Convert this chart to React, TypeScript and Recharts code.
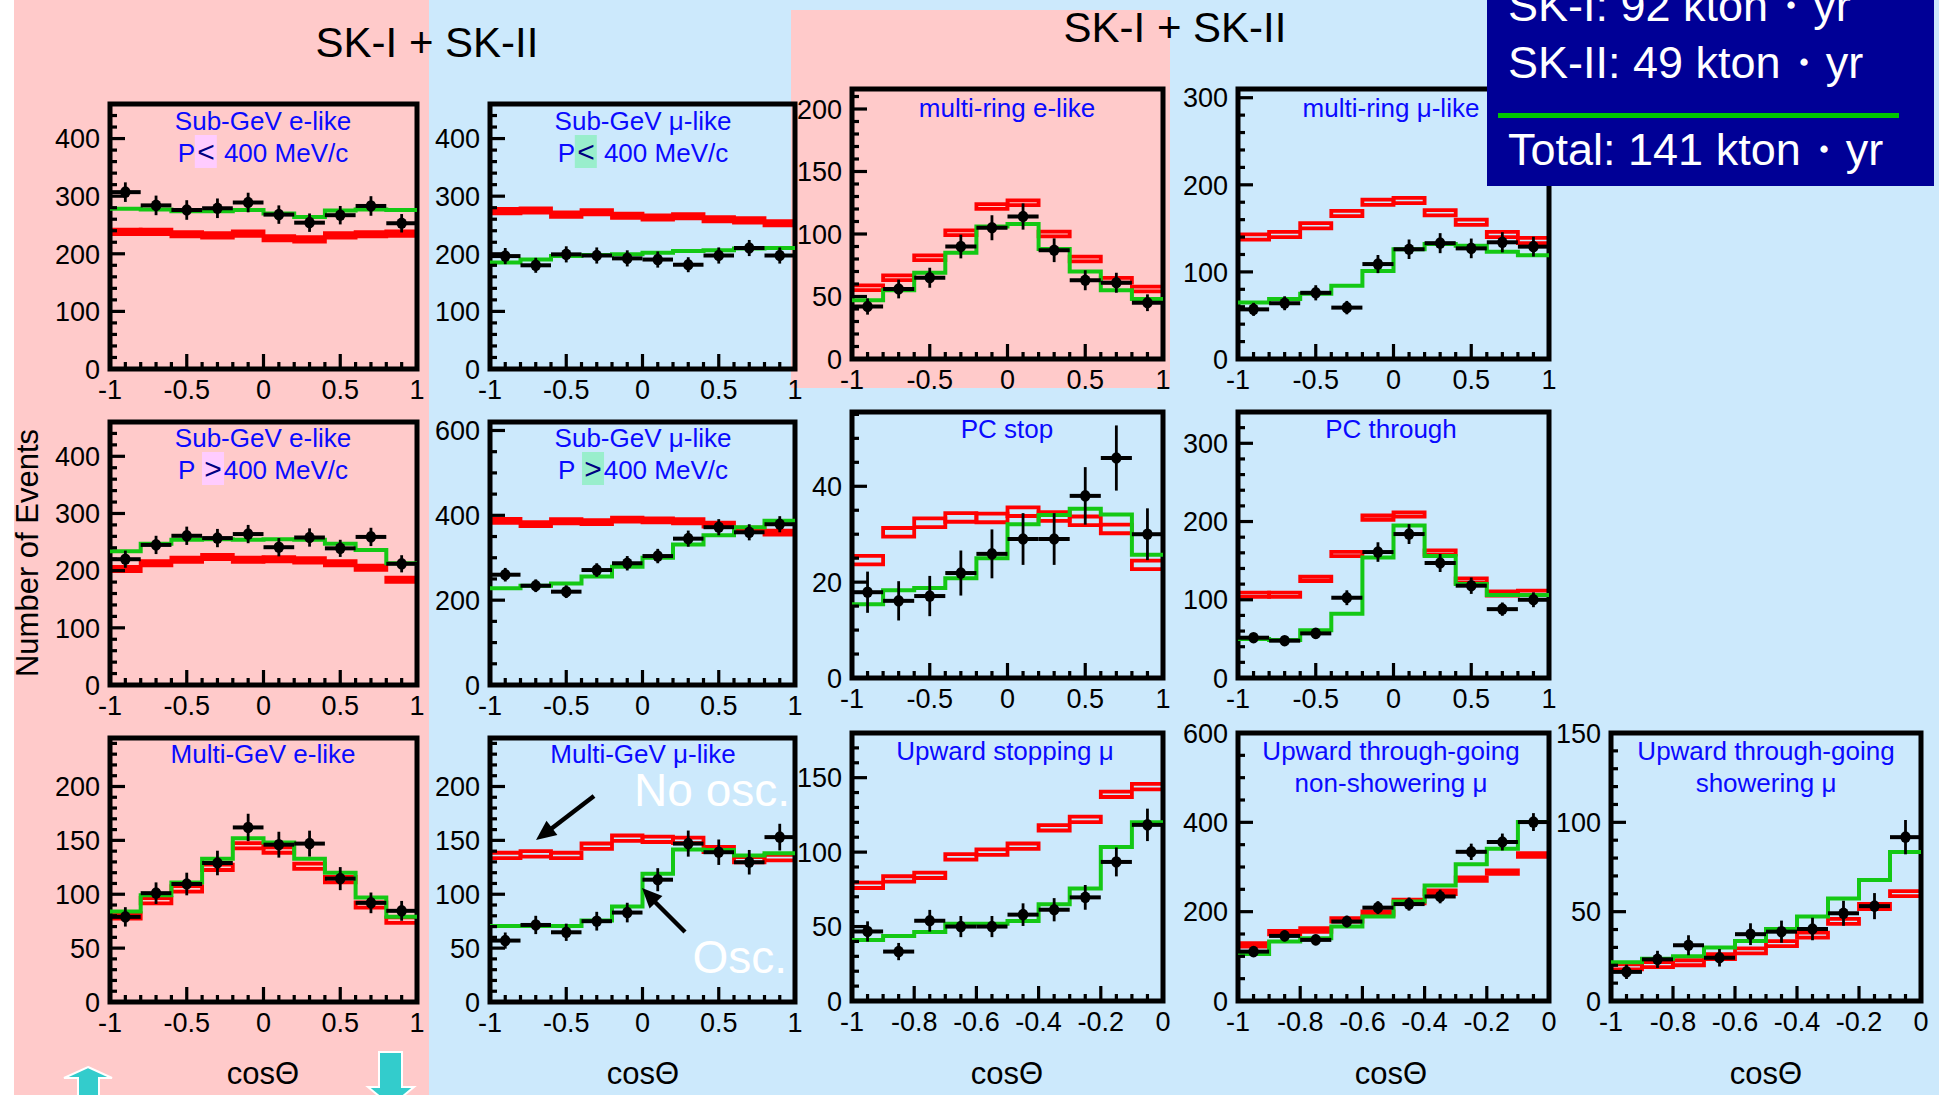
import React from "react";
import {
  ComposedChart,
  XAxis,
  YAxis,
  Line,
  Scatter,
  ErrorBar,
  ReferenceArea,
} from "recharts";

const PINK = "#ffcaca";
const BLUE = "#cce9fc";
const NAVY = "#000096";
const GREEN = "#14c814";
const RED = "#ff0000";
const TITLE_BLUE = "#0a0aff";
const FONT = '"Liberation Sans", Arial, Helvetica, sans-serif';

// bin centres in cosΘ
const cosFull = [-0.9, -0.7, -0.5, -0.3, -0.1, 0.1, 0.3, 0.5, 0.7, 0.9];
const cosUp = [-0.95, -0.85, -0.75, -0.65, -0.55, -0.45, -0.35, -0.25, -0.15, -0.05];

// Sub-GeV e-like P<400
const subELowData = [307, 284, 276, 279, 289, 268, 254, 267, 283, 253];
const subELowErr = [17, 17, 17, 17, 17, 16, 16, 16, 17, 16];
const subELowOsc = [278, 277, 274, 274, 276, 270, 264, 275, 277, 276];
const subELowNoOsc = [238, 238, 234, 232, 235, 227, 225, 232, 234, 235];

// Sub-GeV mu-like P<400
const subMuLowData = [196, 180, 199, 197, 192, 190, 181, 197, 210, 197];
const subMuLowErr = [14, 13, 14, 14, 14, 14, 13, 14, 14, 14];
const subMuLowOsc = [185, 190, 196, 198, 199, 202, 205, 206, 209, 210];
const subMuLowNoOsc = [274, 275, 268, 272, 266, 263, 265, 260, 258, 253];

// multi-ring e-like
const mrEData = [42, 56, 65, 90, 105, 114, 87, 63, 61, 45];
const mrEErr = [6.5, 7.5, 8, 9.5, 10, 10.5, 9.5, 8, 8, 6.7];
const mrEOsc = [47, 55, 69, 85, 106, 108, 88, 70, 55, 48];
const mrENoOsc = [57, 65, 81, 101, 122, 125, 100, 80, 63, 56];

// multi-ring mu-like
const mrMuData = [57, 64, 76, 59, 109, 126, 133, 127, 134, 129];
const mrMuErr = [7.5, 8, 8.7, 7.7, 10.4, 11.2, 11.5, 11.3, 11.6, 11.4];
const mrMuOsc = [65, 69, 75, 84, 101, 126, 132, 130, 123, 119];
const mrMuNoOsc = [140, 143, 153, 167, 180, 182, 168, 157, 143, 136];

// Sub-GeV e-like P>400
const subEHighData = [220, 245, 261, 257, 264, 241, 258, 239, 259, 212];
const subEHighErr = [15, 16, 16, 16, 16, 16, 16, 15, 16, 15];
const subEHighOsc = [234, 247, 254, 255, 254, 255, 254, 247, 236, 213];
const subEHighNoOsc = [203, 213, 219, 224, 219, 220, 218, 213, 205, 184];

// Sub-GeV mu-like P>400
const subMuHighData = [260, 234, 220, 271, 287, 304, 345, 372, 360, 379];
const subMuHighErr = [16, 15, 15, 16, 17, 17, 19, 19, 19, 19];
const subMuHighOsc = [228, 234, 239, 256, 279, 300, 331, 353, 372, 387];
const subMuHighNoOsc = [387, 379, 386, 384, 390, 388, 386, 378, 366, 359];

// PC stop
const pcStopData = [17.9, 16.1, 17.1, 21.9, 25.9, 29, 29, 38, 45.9, 30];
const pcStopErr = [4.3, 4.1, 4.2, 4.7, 5.1, 5.4, 5.4, 6, 6.8, 5.4];
const pcStopOsc = [15.4, 18.3, 18.8, 20.8, 25, 32.1, 34, 35.3, 34.1, 25.7];
const pcStopNoOsc = [24.6, 30.4, 32.4, 33.5, 33.4, 34.7, 33.7, 32.8, 31.1, 23.6];

// PC through
const pcThruData = [51.5, 47.7, 57, 102.6, 161, 184, 147, 118, 88, 100];
const pcThruErr = [6, 6, 6.5, 9.5, 12.5, 12.7, 11.5, 10.5, 8.5, 9.5];
const pcThruOsc = [50, 48.6, 61, 82, 154, 195, 156, 120, 106, 106];
const pcThruNoOsc = [106.5, 106.5, 126.7, 158.4, 205, 209, 160.5, 124.6, 108, 109];

// Multi-GeV e-like
const mgEData = [79, 101, 109.5, 129, 162, 146, 147, 114.5, 92, 84.6];
const mgEErr = [9, 10, 10.5, 11.4, 12.7, 12, 12, 10.7, 9.6, 9.2];
const mgEOsc = [84, 99, 111, 133, 152, 148, 133, 120, 97, 79];
const mgENoOsc = [80, 94, 105, 125, 145, 141, 126, 113.5, 90, 76];

// Multi-GeV mu-like
const mgMuData = [57, 71.5, 64.7, 75, 83, 113.5, 147, 139, 129.7, 153];
const mgMuErr = [7.5, 8.5, 8, 8.7, 9.1, 10.7, 12.1, 11.8, 11.4, 12.4];
const mgMuOsc = [70.6, 70.6, 70.6, 75.6, 88.6, 119, 141.5, 141, 136, 138];
const mgMuNoOsc = [136, 137.5, 136, 144.6, 152, 151, 150, 141.5, 132, 134];

// Upward stopping mu
const upStopData = [46.7, 33.2, 53.9, 50, 50, 58, 61.3, 69.6, 93.4, 118.3];
const upStopErr = [6.8, 5.8, 7.3, 7.1, 7.1, 7.6, 7.8, 8.3, 9.7, 10.9];
const upStopOsc = [41, 43.6, 46.3, 51.9, 51.9, 53.7, 64.9, 75.5, 103.5, 120];
const upStopNoOsc = [77.7, 82, 84.4, 96.8, 100, 104, 116.3, 122, 138.8, 144];

// Upward through-going non-showering mu
const upThruData = [110.6, 145.7, 136.8, 177.9, 209, 217, 234, 334, 356, 400.6];
const upThruErr = [10.5, 12, 11.7, 13.3, 14.5, 14.7, 15.3, 18.3, 18.9, 20];
const upThruOsc = [105, 133, 140.5, 166.7, 189, 222.7, 258.6, 306, 341, 400.6];
const upThruNoOsc = [125.6, 153, 159, 181.6, 196.6, 222.7, 243.6, 272.8, 288.5, 327];

// Upward through-going showering mu
const upShowData = [16.3, 23.3, 31.2, 24.2, 37.4, 38.8, 40.3, 49.1, 53.1, 91.7];
const upShowErr = [4, 4.8, 5.6, 4.9, 6.1, 6.2, 6.3, 7, 7.3, 9.6];
const upShowOsc = [21.7, 23.6, 25.1, 29.9, 33.6, 40.3, 47.3, 57.3, 67.7, 83.4];
const upShowNoOsc = [19.1, 20.4, 21.4, 24.8, 28, 32.1, 36.9, 44.6, 52.9, 60.1];

type Panel = {
  left: number;
  top: number;
  w: number;
  h: number;
  up?: boolean;
  yMax: number;
  yMajor: number;
  yMinor: number;
  data: number[];
  err: number[];
  osc: number[];
  noOsc: number[];
  band: number;
  solid?: boolean;
};

const panels: Panel[] = [
  { left: 110, top: 104, w: 307, h: 265, yMax: 460, yMajor: 100, yMinor: 20, data: subELowData, err: subELowErr, osc: subELowOsc, noOsc: subELowNoOsc, band: 3.7, solid: true },
  { left: 490, top: 104, w: 305, h: 265, yMax: 460, yMajor: 100, yMinor: 20, data: subMuLowData, err: subMuLowErr, osc: subMuLowOsc, noOsc: subMuLowNoOsc, band: 3.7, solid: true },
  { left: 852, top: 89, w: 311, h: 270, yMax: 216, yMajor: 50, yMinor: 10, data: mrEData, err: mrEErr, osc: mrEOsc, noOsc: mrENoOsc, band: 1.9 },
  { left: 1238, top: 89, w: 311, h: 270, yMax: 310, yMajor: 100, yMinor: 20, data: mrMuData, err: mrMuErr, osc: mrMuOsc, noOsc: mrMuNoOsc, band: 3 },
  { left: 110, top: 422, w: 307, h: 263, yMax: 460, yMajor: 100, yMinor: 20, data: subEHighData, err: subEHighErr, osc: subEHighOsc, noOsc: subEHighNoOsc, band: 3.7, solid: true },
  { left: 490, top: 422, w: 305, h: 263, yMax: 620, yMajor: 200, yMinor: 50, data: subMuHighData, err: subMuHighErr, osc: subMuHighOsc, noOsc: subMuHighNoOsc, band: 4.7, solid: true },
  { left: 852, top: 412, w: 311, h: 266, yMax: 55.5, yMajor: 20, yMinor: 5, data: pcStopData, err: pcStopErr, osc: pcStopOsc, noOsc: pcStopNoOsc, band: 0.9 },
  { left: 1238, top: 412, w: 311, h: 266, yMax: 340, yMajor: 100, yMinor: 20, data: pcThruData, err: pcThruErr, osc: pcThruOsc, noOsc: pcThruNoOsc, band: 2.7 },
  { left: 110, top: 738, w: 307, h: 264, yMax: 245, yMajor: 50, yMinor: 10, data: mgEData, err: mgEErr, osc: mgEOsc, noOsc: mgENoOsc, band: 2.5 },
  { left: 490, top: 738, w: 305, h: 264, yMax: 245, yMajor: 50, yMinor: 10, data: mgMuData, err: mgMuErr, osc: mgMuOsc, noOsc: mgMuNoOsc, band: 2.5 },
  { left: 852, top: 733, w: 311, h: 268, up: true, yMax: 180, yMajor: 50, yMinor: 10, data: upStopData, err: upStopErr, osc: upStopOsc, noOsc: upStopNoOsc, band: 1.8 },
  { left: 1238, top: 733, w: 311, h: 268, up: true, yMax: 600, yMajor: 200, yMinor: 50, data: upThruData, err: upThruErr, osc: upThruOsc, noOsc: upThruNoOsc, band: 4 },
  { left: 1611, top: 733, w: 310, h: 268, up: true, yMax: 150, yMajor: 50, yMinor: 10, data: upShowData, err: upShowErr, osc: upShowOsc, noOsc: upShowNoOsc, band: 1.4 },
];

const ML = 72; // room for y labels
const MT = 16;
const MR = 22;
const MB = 46;
const GAP_Y = 10;
const GAP_X = 11;

function tickList(min: number, max: number, step: number) {
  const out: number[] = [];
  for (let k = Math.ceil(min / step - 1e-9); k * step <= max + 1e-9; k++) {
    out.push(Math.round(k * step * 1000) / 1000);
  }
  return out;
}

const isMultiple = (v: number, step: number) =>
  Math.abs(v / step - Math.round(v / step)) < 1e-6;

function makeYTick(major: number) {
  return (props: any) => {
    const { x, y, payload } = props;
    const v = payload.value;
    const big = isMultiple(v, major);
    const ax = x + GAP_Y;
    return (
      <g>
        <line x1={ax} x2={ax + (big ? 15 : 7)} y1={y} y2={y} stroke="#000" strokeWidth={3.2} />
        {big && (
          <text x={x} y={y} dy="0.36em" textAnchor="end" fontSize={27} fontFamily={FONT} fill="#000">
            {String(v)}
          </text>
        )}
      </g>
    );
  };
}

function makeXTick(major: number) {
  return (props: any) => {
    const { x, y, payload } = props;
    const v = payload.value;
    const big = isMultiple(v, major);
    const ay = y - GAP_X;
    return (
      <g>
        <line x1={x} x2={x} y1={ay} y2={ay - (big ? 15 : 7)} stroke="#000" strokeWidth={3.2} />
        {big && (
          <text x={x} y={y} dy="0.72em" textAnchor="middle" fontSize={27} fontFamily={FONT} fill="#000">
            {String(v)}
          </text>
        )}
      </g>
    );
  };
}

const DataDot = (props: any) => (
  <ellipse cx={props.cx} cy={props.cy} rx={5.2} ry={5.8} fill="#000" />
);

function PanelChart({ p }: { p: Panel }) {
  const bins = p.up ? cosUp : cosFull;
  const half = p.up ? 0.05 : 0.1;
  const xMin = -1;
  const xMax = p.up ? 0 : 1;
  const xMajor = p.up ? 0.2 : 0.5;
  const xMinor = p.up ? 0.05 : 0.1;

  const step = bins.map((c, i) => ({ x: +(c - half).toFixed(3), y: p.osc[i] }));
  step.push({ x: xMax, y: p.osc[p.osc.length - 1] });
  const pts = bins.map((c, i) => ({ x: c, y: p.data[i], err: p.err[i], xerr: half }));

  const W = p.w + ML + MR;
  const H = p.h + MT + MB;

  return (
    <div style={{ position: "absolute", left: p.left - ML, top: p.top - MT }}>
      <ComposedChart width={W} height={H} margin={{ top: MT, right: MR, bottom: 0, left: 0 }}>
        <XAxis
          type="number"
          dataKey="x"
          domain={[xMin, xMax]}
          ticks={tickList(xMin, xMax, xMinor)}
          interval={0}
          allowDataOverflow
          axisLine={false}
          tickLine={false}
          tickSize={0}
          tickMargin={GAP_X}
          height={MB}
          tick={makeXTick(xMajor)}
        />
        <YAxis
          type="number"
          dataKey="y"
          domain={[0, p.yMax]}
          ticks={tickList(0, p.yMax, p.yMinor)}
          interval={0}
          allowDataOverflow
          axisLine={false}
          tickLine={false}
          tickSize={0}
          tickMargin={GAP_Y}
          width={ML}
          tick={makeYTick(p.yMajor)}
        />
        {p.noOsc.map((v, i) => (
          <ReferenceArea
            key={"n" + i}
            x1={bins[i] - half}
            x2={bins[i] + half}
            y1={v - p.band}
            y2={v + p.band}
            fill={p.solid ? RED : "none"}
            fillOpacity={1}
            stroke={RED}
            strokeWidth={3.8}
            ifOverflow="visible"
          />
        ))}
        <Line
          data={step}
          dataKey="y"
          type="stepAfter"
          stroke={GREEN}
          strokeWidth={4}
          dot={false}
          isAnimationActive={false}
        />
        <Scatter data={pts} dataKey="y" shape={DataDot} isAnimationActive={false}>
          <ErrorBar dataKey="xerr" direction="x" width={0} stroke="#000" strokeWidth={4} />
          <ErrorBar dataKey="err" direction="y" width={0} stroke="#000" strokeWidth={2.8} />
        </Scatter>
        <ReferenceArea
          x1={xMin}
          x2={xMax}
          y1={0}
          y2={p.yMax}
          fill="none"
          stroke="#000"
          strokeWidth={5}
          ifOverflow="visible"
        />
      </ComposedChart>
    </div>
  );
}

function Title({ x, y, children, size = 26 }: { x: number; y: number; children: React.ReactNode; size?: number }) {
  return (
    <div
      style={{
        position: "absolute",
        left: x,
        top: y,
        transform: "translate(-50%, -50%)",
        whiteSpace: "nowrap",
        color: TITLE_BLUE,
        fontSize: size,
        lineHeight: 1,
        fontFamily: FONT,
      }}
    >
      {children}
    </div>
  );
}

const Cmp = ({ sym, bg }: { sym: string; bg: string }) => (
  <span style={{ background: bg, color: "#000080", fontSize: 30, padding: "0 2px" }}>{sym}</span>
);

function arrowHead(x1: number, y1: number, x2: number, y2: number, len = 20, wid = 9) {
  const dx = x2 - x1;
  const dy = y2 - y1;
  const d = Math.hypot(dx, dy);
  const ux = dx / d;
  const uy = dy / d;
  const bx = x2 - ux * len;
  const by = y2 - uy * len;
  return `${x2},${y2} ${bx - uy * wid},${by + ux * wid} ${bx + uy * wid},${by - ux * wid}`;
}

const cosLabelX = [263, 643, 1007, 1391, 1766];

export default function App() {
  return (
    <div
      style={{
        position: "absolute",
        left: 0,
        top: 0,
        width: 1939,
        height: 1095,
        overflow: "hidden",
        background: BLUE,
        fontFamily: FONT,
      }}
    >
      <div style={{ position: "absolute", left: 0, top: 0, width: 14, height: 1095, background: "#fff" }} />
      <div style={{ position: "absolute", left: 14, top: 0, width: 415, height: 1095, background: PINK }} />
      <div style={{ position: "absolute", left: 791, top: 10, width: 379, height: 378, background: PINK }} />

      {panels.map((p, i) => (
        <PanelChart key={i} p={p} />
      ))}

      <Title x={263} y={121}>Sub-GeV e-like</Title>
      <Title x={263} y={152}>
        P<Cmp sym="<" bg="#ffccff" /> 400 MeV/c
      </Title>
      <Title x={643} y={121}>Sub-GeV μ-like</Title>
      <Title x={643} y={152}>
        P<Cmp sym="<" bg="#99eecc" /> 400 MeV/c
      </Title>
      <Title x={1007} y={108}>multi-ring e-like</Title>
      <Title x={1391} y={108}>multi-ring μ-like</Title>
      <Title x={263} y={438}>Sub-GeV e-like</Title>
      <Title x={263} y={469}>
        P <Cmp sym=">" bg="#ffccff" />400 MeV/c
      </Title>
      <Title x={643} y={438}>Sub-GeV μ-like</Title>
      <Title x={643} y={469}>
        P <Cmp sym=">" bg="#99eecc" />400 MeV/c
      </Title>
      <Title x={1007} y={429}>PC stop</Title>
      <Title x={1391} y={429}>PC through</Title>
      <Title x={263} y={754}>Multi-GeV e-like</Title>
      <Title x={643} y={754}>Multi-GeV μ-like</Title>
      <Title x={1005} y={751}>Upward stopping μ</Title>
      <Title x={1391} y={751}>Upward through-going</Title>
      <Title x={1391} y={783}>non-showering μ</Title>
      <Title x={1766} y={751}>Upward through-going</Title>
      <Title x={1766} y={783}>showering μ</Title>

      <svg
        width={1939}
        height={1095}
        style={{ position: "absolute", left: 0, top: 0, pointerEvents: "none" }}
        fontFamily={FONT}
      >
        <text x={427} y={57} fontSize={42} textAnchor="middle" fill="#000">SK-I + SK-II</text>
        <text x={1175} y={42} fontSize={42} textAnchor="middle" fill="#000">SK-I + SK-II</text>

        <rect x={1487} y={0} width={447} height={186} fill={NAVY} />
        <text x={1508} y={21} fontSize={45} fill="#fff">SK-I: 92 kton・yr</text>
        <text x={1508} y={78} fontSize={45} fill="#fff">SK-II: 49 kton・yr</text>
        <rect x={1498} y={113} width={401} height={5} fill="#00c800" />
        <text x={1508} y={165} fontSize={45} fill="#fff">Total: 141 kton・yr</text>

        <text
          x={38}
          y={553}
          fontSize={31}
          textAnchor="middle"
          fill="#000"
          transform="rotate(-90 38 553)"
        >
          Number of Events
        </text>

        {cosLabelX.map((x, i) => (
          <text key={i} x={x} y={1084} fontSize={31} textAnchor="middle" fill="#000">
            cosΘ
          </text>
        ))}

        <line x1={594} y1={796} x2={547} y2={832} stroke="#000" strokeWidth={4.5} />
        <polygon points={arrowHead(594, 796, 536, 840)} fill="#000" />
        <line x1={685} y1={932} x2={650} y2={897} stroke="#000" strokeWidth={4.5} />
        <polygon points={arrowHead(685, 932, 642, 888)} fill="#000" />
        <text x={790} y={806} fontSize={46} textAnchor="end" fill="#fff">No osc.</text>
        <text x={787} y={973} fontSize={46} textAnchor="end" fill="#fff">Osc.</text>

        <polygon
          points="88,1067 112,1078 99,1078 99,1100 78,1100 78,1078 64,1078"
          fill="#33cccc"
          stroke="#fff"
          strokeWidth={2}
        />
        <polygon
          points="379,1052 402,1052 402,1087 414,1087 391,1106 368,1087 379,1087"
          fill="#33cccc"
          stroke="#fff"
          strokeWidth={2}
        />
      </svg>
    </div>
  );
}
